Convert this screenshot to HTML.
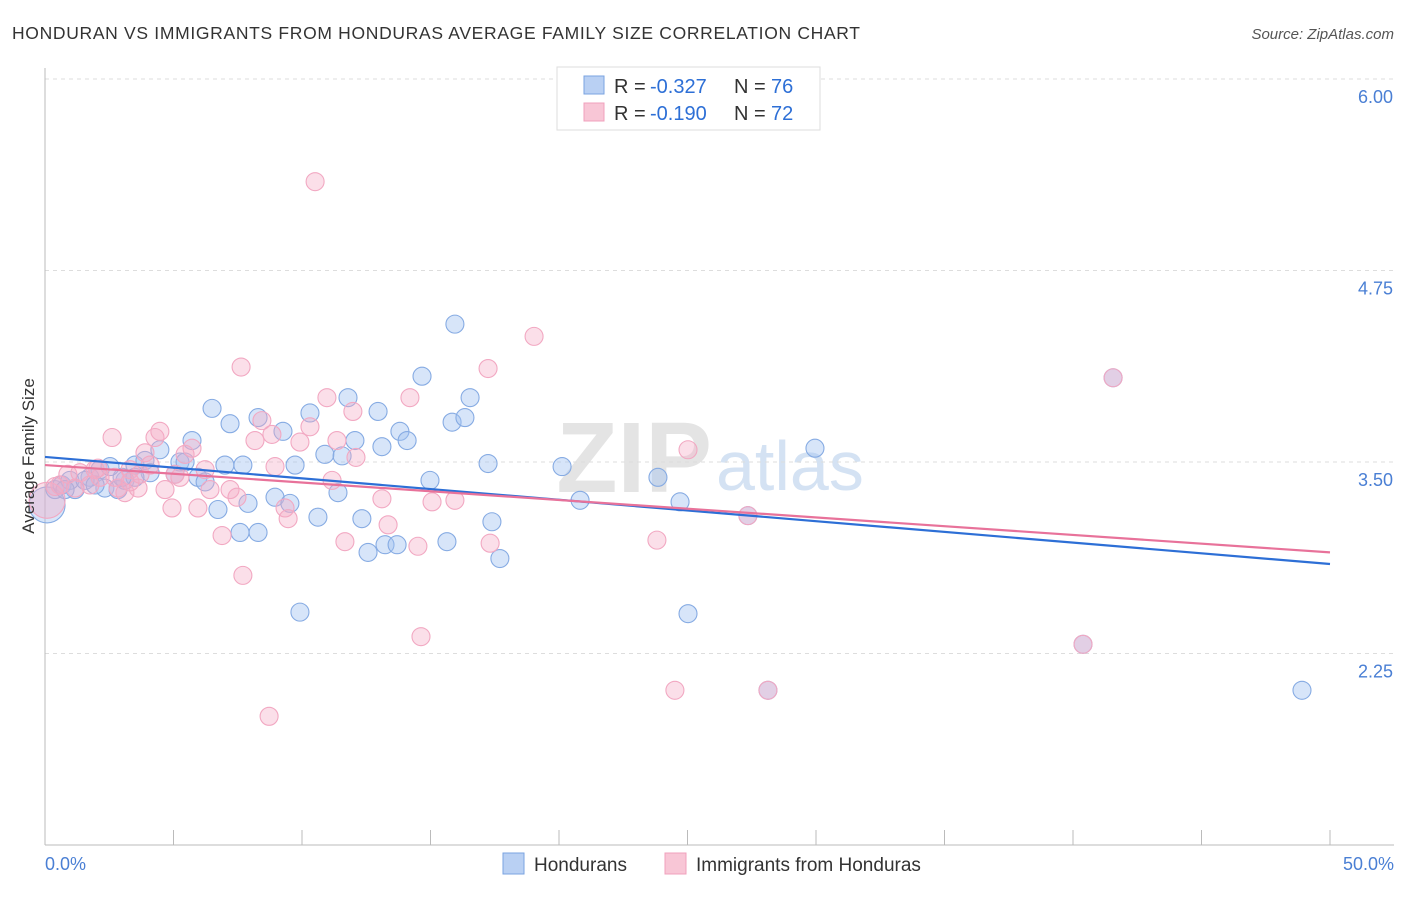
<!DOCTYPE html>
<html><head><meta charset="utf-8"><style>
body{margin:0;background:#fff;font-family:"Liberation Sans",sans-serif;}
svg text{font-family:"Liberation Sans",sans-serif;}
</style></head><body>
<svg id="chart" width="1406" height="892">
<text x="12" y="39" font-size="17.5" fill="#333" textLength="848">HONDURAN VS IMMIGRANTS FROM HONDURAS AVERAGE FAMILY SIZE CORRELATION CHART</text>
<text x="1394" y="39" font-size="15" fill="#555" font-style="italic" text-anchor="end">Source: ZipAtlas.com</text>
<text x="712" y="492" font-size="100" fill="#e4e4e4" font-weight="bold" text-anchor="end" font-family="Liberation Serif">ZIP</text>
<text x="716" y="490" font-size="70" fill="#d4e2f3">atlas</text>
<g id="grid"></g><g id="axes"></g><g id="pts"></g><g id="lines"></g>
<text x="34" y="456" font-size="17" fill="#333" text-anchor="middle" transform="rotate(-90 34 456)">Average Family Size</text>
<text x="45" y="870" font-size="18" fill="#4a7fd4">0.0%</text>
<text x="1394" y="870" font-size="18" fill="#4a7fd4" text-anchor="end">50.0%</text>
<g>
<rect x="557" y="67" width="263" height="63" fill="#fff" stroke="#ddd"/>
<rect x="584" y="76" width="20" height="18" fill="#b9d0f3" stroke="#7aa3e0"/>
<rect x="584" y="103" width="20" height="18" fill="#f8c6d6" stroke="#f0a0bc"/>
<text x="614" y="93" font-size="20" fill="#333">R =</text>
<text x="650" y="93" font-size="20" fill="#2d6fd6">-0.327</text>
<text x="734" y="93" font-size="20" fill="#333">N =</text>
<text x="771" y="93" font-size="20" fill="#2d6fd6">76</text>
<text x="614" y="120" font-size="20" fill="#333">R =</text>
<text x="650" y="120" font-size="20" fill="#2d6fd6">-0.190</text>
<text x="734" y="120" font-size="20" fill="#333">N =</text>
<text x="771" y="120" font-size="20" fill="#2d6fd6">72</text>
</g>
<g>
<rect x="503" y="853" width="21" height="21" fill="#b9d0f3" stroke="#7aa3e0"/>
<text x="534" y="871" font-size="19" fill="#333">Hondurans</text>
<rect x="665" y="853" width="21" height="21" fill="#f8c6d6" stroke="#f0a0bc"/>
<text x="696" y="871" font-size="19" fill="#333">Immigrants from Honduras</text>
</g>
</svg>
<script>
const yTicks=[6.00,4.75,3.50,2.25];
const xTicks=[0,5,10,15,20,25,30,35,40,45,50];
const blueX=[0.08,0.39,0.66,1.17,0.97,1.75,2.14,2.33,2.84,3.11,3.50,3.89,4.09,4.47,5.06,5.25,5.72,5.45,5.95,6.23,6.50,6.73,7.00,7.20,7.59,7.70,7.90,8.29,8.29,8.95,9.26,9.53,9.73,9.92,10.31,10.62,10.89,11.40,11.56,11.79,12.06,12.33,12.57,12.96,13.11,13.23,13.70,13.81,14.09,14.67,14.98,15.64,15.84,15.95,16.34,16.54,17.24,17.39,17.70,20.12,20.82,23.85,24.71,25.02,27.35,28.13,29.96,40.39,41.56,48.91,3.50,3.00,2.53,0.78,1.56,1.95];
const blueY=[3.22,3.32,3.35,3.32,3.38,3.40,3.45,3.33,3.32,3.38,3.48,3.51,3.43,3.58,3.42,3.50,3.64,3.50,3.40,3.37,3.85,3.19,3.48,3.75,3.04,3.48,3.23,3.04,3.79,3.27,3.70,3.23,3.48,2.52,3.82,3.14,3.55,3.30,3.54,3.92,3.64,3.13,2.91,3.83,3.60,2.96,2.96,3.70,3.64,4.06,3.38,2.98,3.76,4.40,3.79,3.92,3.49,3.11,2.87,3.47,3.25,3.40,3.24,2.51,3.15,2.01,3.59,2.31,4.05,2.01,3.40,3.40,3.47,3.32,3.38,3.35];
const pinkX=[0.08,0.39,0.58,0.89,1.36,1.75,2.06,2.61,2.84,3.11,3.31,3.62,3.89,4.09,4.28,4.47,4.67,4.94,5.06,5.45,5.72,5.95,6.23,6.42,6.89,7.20,7.47,7.63,7.70,8.17,8.44,8.72,8.83,8.95,9.34,9.46,9.92,10.31,10.51,10.97,11.17,11.36,11.67,11.98,12.10,13.11,13.35,14.20,14.51,14.63,15.06,15.95,17.24,17.32,19.03,23.81,24.51,25.02,27.35,28.13,40.39,41.56,2.14,2.72,5.25,3.31,1.17,1.95,3.70];
const pinkY=[3.25,3.34,3.35,3.42,3.43,3.35,3.46,3.66,3.33,3.30,3.45,3.33,3.56,3.48,3.66,3.70,3.32,3.20,3.42,3.55,3.59,3.20,3.45,3.32,3.02,3.32,3.27,4.12,2.76,3.64,3.77,1.84,3.68,3.47,3.20,3.13,3.63,3.73,5.33,3.92,3.38,3.64,2.98,3.83,3.53,3.26,3.09,3.92,2.95,2.36,3.24,3.25,4.11,2.97,4.32,2.99,2.01,3.58,3.15,2.01,2.31,4.05,3.40,3.40,3.40,3.37,3.33,3.45,3.42];
const blueTrend=[3.533,2.834];
const pinkTrend=[3.48,2.91];
const NS='http://www.w3.org/2000/svg';
const sx=v=>45+v/50*1285;
const sy=v=>79+(6-v)*153.2;
function mk(tag,attrs,parent){const e=document.createElementNS(NS,tag);for(const k in attrs)e.setAttribute(k,attrs[k]);document.getElementById(parent).appendChild(e);return e;}
yTicks.forEach(t=>{
 const l=mk('line',{x1:45,x2:1394,y1:sy(t),y2:sy(t),stroke:'#ddd','stroke-dasharray':'4 4'},'grid');
 
 
 const tx=mk('text',{x:1393,y:sy(t)+24,'font-size':18,fill:'#4a7fd4','text-anchor':'end'},'grid');
 tx.textContent=t.toFixed(2);
 
 
});
const ax=mk('line',{x1:45,x2:45,y1:68,y2:845,stroke:'#bbb'},'axes');


const bx=mk('line',{x1:45,x2:1394,y1:845,y2:845,stroke:'#bbb'},'axes');


xTicks.forEach(t=>{
 const l=mk('line',{x1:sx(t),x2:sx(t),y1:830,y2:845,stroke:'#bbb'},'axes');
 
 
});
function pts(X,Y,fill,stroke,name){
 X.forEach((x,i)=>{
  const r=(x<0.2)?18:9;
  const c=mk('circle',{cx:sx(x),cy:sy(Y[i]),r:r,fill:fill,stroke:stroke,'stroke-width':1.1},'pts');
  
  
 });
}
pts(blueX,blueY,'rgba(160,192,240,0.42)','#86abe3','honduran-point');
pts(pinkX,pinkY,'rgba(245,170,196,0.38)','#f2a8c2','immigrant-point');
const bl=mk('line',{x1:sx(0),y1:sy(blueTrend[0]),x2:sx(50),y2:sy(blueTrend[1]),stroke:'#2d6fd6','stroke-width':2.2},'lines');


const pl=mk('line',{x1:sx(0),y1:sy(pinkTrend[0]),x2:sx(50),y2:sy(pinkTrend[1]),stroke:'#e8729a','stroke-width':2.2},'lines');


</script>
</body></html>
